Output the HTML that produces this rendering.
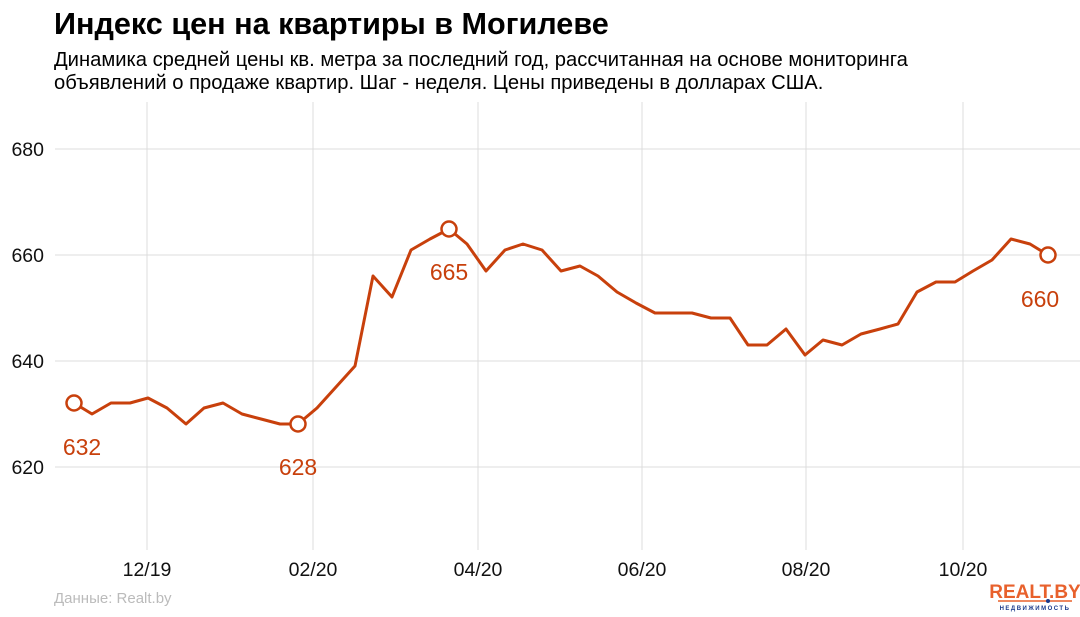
<!DOCTYPE html>
<html><head><meta charset="utf-8"><style>
html,body{margin:0;padding:0;background:#fff;}
svg{display:block;font-family:"Liberation Sans",Arial,sans-serif;}
</style></head><body>
<svg width="1080" height="617" viewBox="0 0 1080 617" xmlns="http://www.w3.org/2000/svg">
<text x="54" y="34" font-size="30.6" font-weight="bold" fill="#000">Индекс цен на квартиры в Могилеве</text>
<text x="54" y="66" font-size="20.2" fill="#000">Динамика средней цены кв. метра за последний год, рассчитанная на основе мониторинга</text>
<text x="54" y="89" font-size="20.2" fill="#000">объявлений о продаже квартир. Шаг - неделя. Цены приведены в долларах США.</text>
<g stroke="#dcdcdc" stroke-width="1">
<line x1="55" y1="149" x2="1080" y2="149"/>
<line x1="55" y1="255" x2="1080" y2="255"/>
<line x1="55" y1="361" x2="1080" y2="361"/>
<line x1="55" y1="467" x2="1080" y2="467"/>
<line x1="147" y1="102" x2="147" y2="550"/>
<line x1="313" y1="102" x2="313" y2="550"/>
<line x1="478" y1="102" x2="478" y2="550"/>
<line x1="642" y1="102" x2="642" y2="550"/>
<line x1="806" y1="102" x2="806" y2="550"/>
<line x1="963" y1="102" x2="963" y2="550"/>
</g>
<g font-size="19.5" fill="#111" text-anchor="end">
<text x="44" y="156">680</text><text x="44" y="262">660</text><text x="44" y="368">640</text><text x="44" y="474">620</text>
</g>
<g font-size="19.5" fill="#111" text-anchor="middle">
<text x="147" y="576">12/19</text><text x="313" y="576">02/20</text><text x="478" y="576">04/20</text><text x="642" y="576">06/20</text><text x="806" y="576">08/20</text><text x="963" y="576">10/20</text>
</g>
<text x="54" y="603" font-size="15" fill="#bbb">Данные: Realt.by</text>
<polyline fill="none" stroke="#c8400c" stroke-width="3" stroke-linejoin="round" points="74,403 92,414 111,403 130,403 148,398 167,408 186,424 204,408 223,403 242,414 261,419 280,424 298,424 317,408 336,387 355,366 373,276 392,297 411,250 430,239 449,229 467,244 486,271 505,250 523,244 542,250 561,271 580,266 598,276 617,292 636,303 655,313 673,313 692,313 711,318 730,318 748,345 767,345 786,329 805,355 823,340 842,345 861,334 880,329 898,324 917,292 936,282 955,282 973,271 992,260 1011,239 1030,244 1048,255"/>
<g fill="#fff" stroke="#c8400c" stroke-width="2.5">
<circle cx="74" cy="403" r="7.5"/><circle cx="298" cy="424" r="7.5"/><circle cx="449" cy="229" r="7.5"/><circle cx="1048" cy="255" r="7.5"/>
</g>
<g font-size="23" fill="#c8400c" text-anchor="middle">
<text x="82" y="455">632</text><text x="298" y="475">628</text><text x="449" y="280">665</text><text x="1040" y="307">660</text>
</g>
<text x="1035" y="598" font-size="19" font-weight="bold" fill="#e8612c" text-anchor="middle">REALT.BY</text>
<line x1="998" y1="601" x2="1072" y2="601" stroke="#e8612c" stroke-width="1.5"/>
<circle cx="1048" cy="601" r="2" fill="#1a3a8c"/>
<text x="1035" y="610" font-size="6" font-weight="bold" fill="#1a3a8c" text-anchor="middle" letter-spacing="1.5">НЕДВИЖИМОСТЬ</text>
</svg>
</body></html>
